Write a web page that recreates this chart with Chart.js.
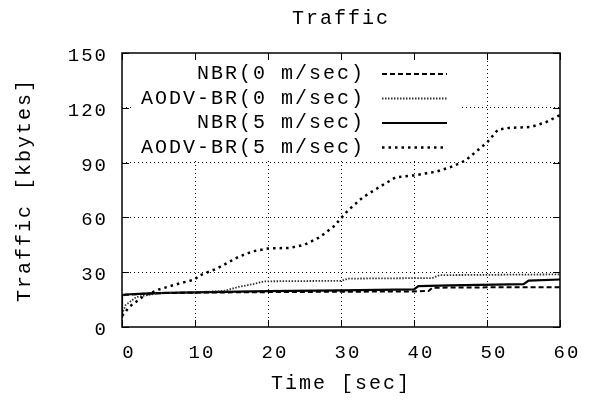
<!DOCTYPE html>
<html>
<head>
<meta charset="utf-8">
<script src="https://cdn.jsdelivr.net/npm/chart.js@4/dist/chart.umd.min.js"></script>
<style>
  html, body { margin: 0; padding: 0; background: #ffffff; }
  canvas { display: block; }
</style>
</head>
<body>
<canvas id="trafficChart" width="589" height="401"></canvas>
<script>
// axis ticks
const xTicks = [0, 10, 20, 30, 40, 50, 60];
const yTicks = [0, 30, 60, 90, 120, 150];

// NBR (0 m/sec)
const nbr0Time    = [0, 0, 0.5, 3, 6, 10, 20, 30, 40, 42, 42.5, 50, 60];
const nbr0Traffic = [5, 17, 17.6, 18.2, 18.6, 18.8, 19.1, 19.3, 19.5, 19.7, 21.5, 21.7, 21.8];

// AODV-BR (0 m/sec)
const aodv0Time    = [0, 0.5, 2, 5, 10, 14, 16, 18, 19.5, 30, 31, 42.5, 43.5, 60];
const aodv0Traffic = [7, 12, 16.5, 18.5, 19, 19.8, 22, 23.5, 25, 25.3, 26.5, 26.8, 28.4, 28.8];

// NBR (5 m/sec)
const nbr5Time    = [0, 0, 0.5, 3, 6, 10, 20, 30, 40, 40.6, 45, 55, 55.7, 60];
const nbr5Traffic = [5, 17.5, 17.8, 18.3, 18.7, 19, 19.6, 20.1, 20.6, 22.4, 22.8, 23.5, 25.4, 26];

// AODV-BR (5 m/sec)
const aodv5Time    = [0, 1, 3, 5, 8, 10, 10.5, 13, 16, 18, 20, 23, 25, 27, 29, 30, 31, 33, 35, 37.5, 40, 43, 45, 47, 48.5, 50, 51.5, 53, 56, 58, 60];
const aodv5Traffic = [6, 11, 17, 20.5, 24, 26, 28, 32, 38.5, 41.5, 43, 43.3, 45, 49, 55, 59.5, 64, 71, 76, 82, 83, 85, 87.5, 91, 96, 101, 108, 109, 109.5, 112, 116];

const seriesLabels = ['NBR(0 m/sec)', 'AODV-BR(0 m/sec)', 'NBR(5 m/sec)', 'AODV-BR(5 m/sec)'];

const monoFont = "'Liberation Mono', 'DejaVu Sans Mono', monospace";
const spacing = '2px';

function toPoints(xs, ys) {
    return xs.map((x, i) => ({ x: x, y: ys[i] }));
}

// gnuplot style letter spacing for the courier text
const spacingPlugin = {
    id: 'spacing',
    beforeLayout(chart) { chart.ctx.letterSpacing = spacing; },
    beforeDraw(chart) { chart.ctx.letterSpacing = spacing; }
};

// white box behind the key, blanks the grid
const keyBoxPlugin = {
    id: 'keyBox',
    beforeDatasetsDraw(chart) {
        const ctx = chart.ctx;
        ctx.save();
        ctx.fillStyle = '#ffffff';
        ctx.fillRect(133, 61, 328, 97);
        ctx.restore();
    },
    afterDatasetsDraw(chart) {
        const ctx = chart.ctx;
        const rowY = [74, 98.5, 123, 147.5];
        ctx.save();
        ctx.letterSpacing = spacing;
        ctx.font = '20px ' + monoFont;
        ctx.fillStyle = '#000000';
        ctx.textAlign = 'right';
        ctx.textBaseline = 'middle';
        chart.data.datasets.forEach((ds, i) => {
            ctx.fillText(ds.label, 365, rowY[i]);
            ctx.beginPath();
            ctx.setLineDash(ds.borderDash || []);
            ctx.strokeStyle = ds.borderColor;
            ctx.lineWidth = ds.borderWidth;
            ctx.moveTo(382, rowY[i]);
            ctx.lineTo(447, rowY[i]);
            ctx.stroke();
        });
        ctx.restore();
    }
};

// frame with inward ticks on all four sides
const framePlugin = {
    id: 'frame',
    afterDatasetsDraw(chart) {
        const ctx = chart.ctx;
        const a = chart.chartArea;
        const xs = chart.scales.x, ys = chart.scales.y;
        const tl = 7;
        ctx.save();
        ctx.setLineDash([]);
        ctx.strokeStyle = '#000000';
        ctx.lineWidth = 1.5;
        ctx.strokeRect(a.left, a.top, a.right - a.left, a.bottom - a.top);
        ctx.lineWidth = 1;
        ctx.beginPath();
        xTicks.forEach(v => {
            const px = Math.round(xs.getPixelForValue(v)) + 0.5;
            ctx.moveTo(px, a.bottom); ctx.lineTo(px, a.bottom - tl);
            ctx.moveTo(px, a.top); ctx.lineTo(px, a.top + tl);
        });
        yTicks.forEach(v => {
            const py = Math.round(ys.getPixelForValue(v)) + 0.5;
            ctx.moveTo(a.left, py); ctx.lineTo(a.left + tl, py);
            ctx.moveTo(a.right, py); ctx.lineTo(a.right - tl, py);
        });
        ctx.stroke();
        ctx.restore();
    }
};

const ctx = document.getElementById('trafficChart').getContext('2d');
new Chart(ctx, {
    type: 'line',
    data: {
        datasets: [
            {
                label: seriesLabels[0],
                data: toPoints(nbr0Time, nbr0Traffic),
                borderColor: '#000000',
                borderWidth: 2,
                borderDash: [5, 3]
            },
            {
                label: seriesLabels[1],
                data: toPoints(aodv0Time, aodv0Traffic),
                borderColor: '#333333',
                borderWidth: 1.8,
                borderDash: [1.5, 1.5]
            },
            {
                label: seriesLabels[2],
                data: toPoints(nbr5Time, nbr5Traffic),
                borderColor: '#000000',
                borderWidth: 2.2
            },
            {
                label: seriesLabels[3],
                data: toPoints(aodv5Time, aodv5Traffic),
                borderColor: '#000000',
                borderWidth: 2.5,
                borderDash: [2.5, 4]
            }
        ]
    },
    options: {
        responsive: false,
        animation: false,
        events: [],
        elements: {
            point: { radius: 0 },
            line: { tension: 0, fill: false }
        },
        layout: { padding: { left: 0, right: 29, top: 0, bottom: 0 } },
        plugins: {
            legend: { display: false },
            tooltip: { enabled: false },
            title: {
                display: true,
                fullSize: false,
                text: 'Traffic',
                color: '#000000',
                font: { family: monoFont, size: 20, weight: 'normal' },
                padding: { top: 7, bottom: 22 }
            }
        },
        scales: {
            x: {
                type: 'linear',
                min: 0,
                max: 60,
                afterFit(scale) { scale.height = 74; },
                afterBuildTicks(scale) { scale.ticks = xTicks.map(v => ({ value: v })); },
                border: { display: false, dash: [1, 3] },
                grid: {
                    drawTicks: false,
                    color: c => (c.tick.value === 0 || c.tick.value === 60) ? 'rgba(0,0,0,0)' : '#000000',
                    lineWidth: 1
                },
                ticks: {
                    color: '#000000',
                    padding: 15,
                    labelOffset: 7,
                    maxRotation: 0,
                    font: { family: monoFont, size: 19 }
                },
                title: {
                    display: true,
                    text: 'Time [sec]',
                    color: '#000000',
                    font: { family: monoFont, size: 20 },
                    padding: { top: 0, bottom: 5 }
                }
            },
            y: {
                type: 'linear',
                min: 0,
                max: 150,
                afterFit(scale) { scale.width = 122; },
                afterBuildTicks(scale) { scale.ticks = yTicks.map(v => ({ value: v })); },
                border: { display: false, dash: [1, 3] },
                grid: {
                    drawTicks: false,
                    color: c => (c.tick.value === 0 || c.tick.value === 150) ? 'rgba(0,0,0,0)' : '#000000',
                    lineWidth: 1
                },
                ticks: {
                    color: '#000000',
                    padding: 14,
                    labelOffset: 3,
                    font: { family: monoFont, size: 19 }
                },
                title: {
                    display: true,
                    text: 'Traffic [kbytes]',
                    color: '#000000',
                    font: { family: monoFont, size: 20 },
                    padding: { top: 13, bottom: 0 }
                }
            }
        }
    },
    plugins: [spacingPlugin, keyBoxPlugin, framePlugin]
});
</script>
</body>
</html>
